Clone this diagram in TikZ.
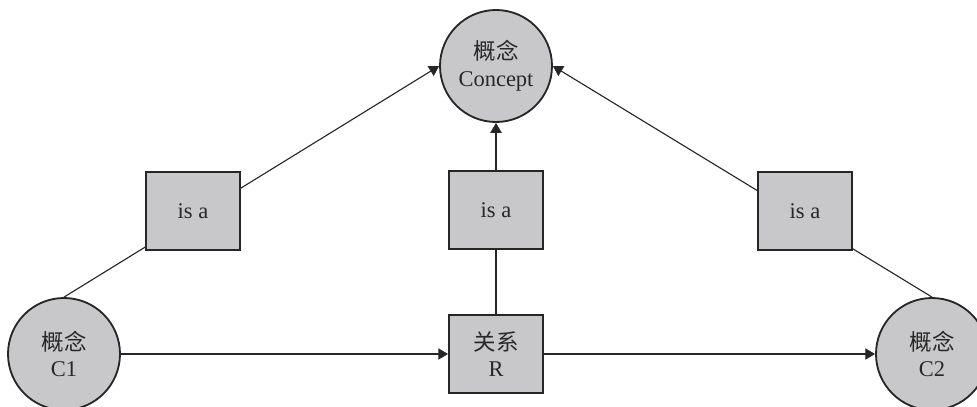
\documentclass[tikz,border=0pt]{standalone}
\usepackage{fontspec}
\setmainfont{Liberation Serif}
\newfontfamily\cjk{Noto Sans CJK SC}
\usepackage{tikz}
\usetikzlibrary{arrows.meta, positioning, backgrounds}
\definecolor{cfill}{RGB}{200,200,202}
\definecolor{ctext}{RGB}{40,40,40}

\begin{document}
\begin{tikzpicture}[
  concept/.style = {circle, draw=black!85, line width=1.3pt, fill=cfill,
                    minimum size=2.8cm, inner sep=0pt, align=center,
                    text=ctext, font=\fontsize{16}{19}\selectfont},
  relbox/.style  = {rectangle, draw=black!85, line width=1.3pt, fill=cfill,
                    minimum width=2.35cm, minimum height=1.95cm,
                    inner sep=0pt, align=center,
                    text=ctext, font=\fontsize{16}{19}\selectfont},
  arr/.style     = {-{Triangle[length=7pt,width=8pt]}, line width=0.8pt, black!85},
  lnk/.style     = {line width=0.8pt, black!85},
]
\useasboundingbox (0,0) rectangle (24.425,10.15);
% Concept nodes
\node[concept] (concept) at (12.4,8.5)  {{\cjk 概念}\\Concept};
\node[concept] (c1)      at (1.6,1.3)   {{\cjk 概念}\\C1};
\node[concept] (c2)      at (23.3,1.3)  {{\cjk 概念}\\C2};
% Relation and is-a boxes
\node[relbox]                   (rel)  at (12.4,1.3) {{\cjk 关系}\\R};
\node[relbox, above=1.6cm of rel] (isa2) {is a};
\node[relbox] (isa1) at (4.825,4.875)  {is a};
\node[relbox] (isa3) at (20.125,4.875) {is a};
% Arrows
\draw[arr] (c1)  -- (rel);
\draw[arr] (rel) -- (c2);
\draw[lnk] (rel) -- (isa2);
\draw[arr] (isa2) -- (concept);
\begin{pgfonlayer}{background}
  \draw[arr] (c1.north) -- (concept.west);
  \draw[arr] (c2.north) -- (concept.east);
\end{pgfonlayer}
\end{tikzpicture}
\end{document}
